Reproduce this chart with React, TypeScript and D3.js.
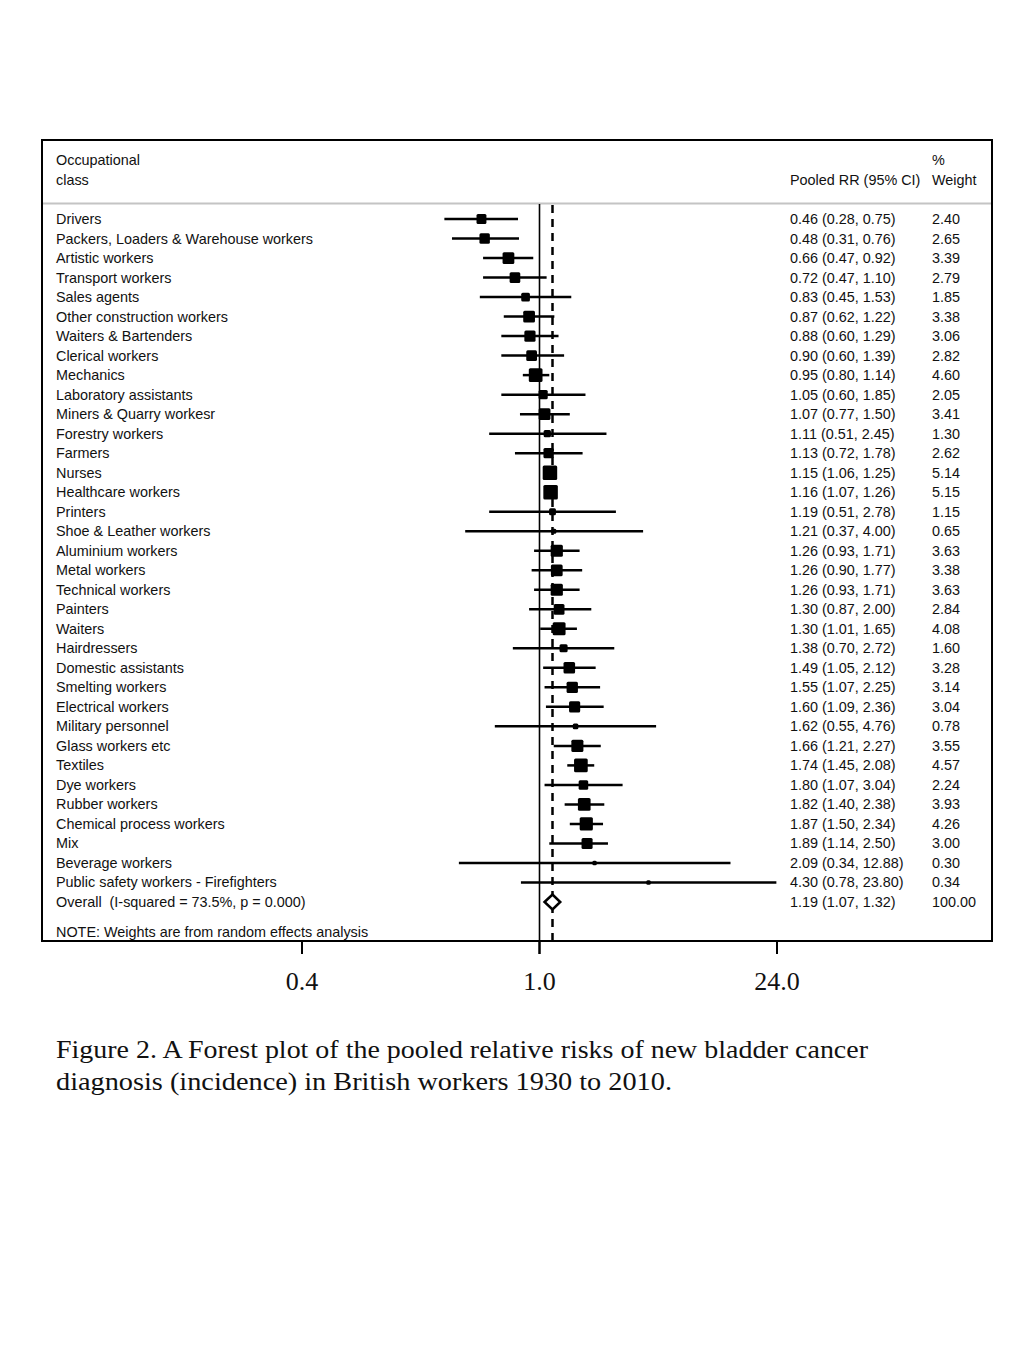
import React from "react";
import * as d3 from "d3";

const categories = [
  "Drivers","Packers, Loaders & Warehouse workers","Artistic workers","Transport workers","Sales agents",
  "Other construction workers","Waiters & Bartenders","Clerical workers","Mechanics","Laboratory assistants",
  "Miners & Quarry workesr","Forestry workers","Farmers","Nurses","Healthcare workers","Printers",
  "Shoe & Leather workers","Aluminium workers","Metal workers","Technical workers","Painters","Waiters",
  "Hairdressers","Domestic assistants","Smelting workers","Electrical workers","Military personnel",
  "Glass workers etc","Textiles","Dye workers","Rubber workers","Chemical process workers","Mix",
  "Beverage workers","Public safety workers - Firefighters",
];
const rr = [0.46,0.48,0.66,0.72,0.83,0.87,0.88,0.90,0.95,1.05,1.07,1.11,1.13,1.15,1.16,1.19,1.21,1.26,1.26,1.26,1.30,1.30,1.38,1.49,1.55,1.60,1.62,1.66,1.74,1.80,1.82,1.87,1.89,2.09,4.30];
const lower = [0.28,0.31,0.47,0.47,0.45,0.62,0.60,0.60,0.80,0.60,0.77,0.51,0.72,1.06,1.07,0.51,0.37,0.93,0.90,0.93,0.87,1.01,0.70,1.05,1.07,1.09,0.55,1.21,1.45,1.07,1.40,1.50,1.14,0.34,0.78];
const upper = [0.75,0.76,0.92,1.10,1.53,1.22,1.29,1.39,1.14,1.85,1.50,2.45,1.78,1.25,1.26,2.78,4.00,1.71,1.77,1.71,2.00,1.65,2.72,2.12,2.25,2.36,4.76,2.27,2.08,3.04,2.38,2.34,2.50,12.88,23.80];
const weights = [2.40,2.65,3.39,2.79,1.85,3.38,3.06,2.82,4.60,2.05,3.41,1.30,2.62,5.14,5.15,1.15,0.65,3.63,3.38,3.63,2.84,4.08,1.60,3.28,3.14,3.04,0.78,3.55,4.57,2.24,3.93,4.26,3.00,0.30,0.34];
const overallLabel = "Overall  (I-squared = 73.5%, p = 0.000)";
const overall = { rr: 1.19, lower: 1.07, upper: 1.32, weight: 100.0 };
const tickValues = [1 / 24, 1, 24];
const tickLabels = ["0.4", "1.0", "24.0"];
const caption = [
  "Figure 2. A Forest plot of the pooled relative risks of new bladder cancer",
  "diagnosis (incidence) in British workers 1930 to 2010.",
];
const captionWidths = [812, 616];

export default function App() {
  const x = d3.scaleLog().domain([1 / 24, 24]).range([302, 777]);
  const rowY = d3.scaleLinear().domain([0, 35]).range([219, 902]);
  const size = d3.scaleSqrt().domain([0, 5.14]).range([0, 14.5]);
  const boxL = 42, boxT = 140, boxR = 992, boxB = 941;
  const sans = "'Liberation Sans', Arial, Helvetica, sans-serif";
  const serif = "'Liberation Serif', 'Times New Roman', serif";
  const fs = 14.4;
  const fmt = (v: number) => v.toFixed(2);
  const dy = 5;
  const ox = x(overall.rr);
  const oy = rowY(35);
  return (
    <svg width={1024} height={1365} style={{ position: "absolute", left: 0, top: 0, background: "#fff" }}>
      <rect x={0} y={0} width={1024} height={1365} fill="#fff" />
      <g fontFamily={sans} fontSize={fs} fill="#111">
        <text x={56} y={165}>Occupational</text>
        <text x={56} y={185}>class</text>
        <text x={790} y={185}>Pooled RR (95% CI)</text>
        <text x={932} y={165}>%</text>
        <text x={932} y={185}>Weight</text>
      </g>
      <line x1={boxL} x2={boxR} y1={203.5} y2={203.5} stroke="#c4c4c4" strokeWidth={2} />
      <line x1={x(1)} x2={x(1)} y1={204} y2={boxB} stroke="#000" strokeWidth={1.6} />
      <line x1={ox} x2={ox} y1={205} y2={boxB} stroke="#000" strokeWidth={2.5} strokeDasharray="8,6" />
      {categories.map((c, i) => {
        const y = rowY(i);
        const s = Math.max(size(weights[i]), 4.5);
        return (
          <g key={c}>
            <line x1={x(lower[i])} x2={x(upper[i])} y1={y} y2={y} stroke="#000" strokeWidth={2.5} />
            <rect x={x(rr[i]) - s / 2} y={y - s / 2} width={s} height={s} rx={1.5} fill="#000" />
            <text x={56} y={y + dy} fontFamily={sans} fontSize={fs} fill="#111">{c}</text>
            <text x={790} y={y + dy} fontFamily={sans} fontSize={fs} fill="#111">
              {`${fmt(rr[i])} (${fmt(lower[i])}, ${fmt(upper[i])})`}
            </text>
            <text x={932} y={y + dy} fontFamily={sans} fontSize={fs} fill="#111">{fmt(weights[i])}</text>
          </g>
        );
      })}
      <path
        d={`M${x(overall.lower)},${oy} L${ox},${oy - 7.5} L${x(overall.upper)},${oy} L${ox},${oy + 7.5} Z`}
        fill="#fff" stroke="#000" strokeWidth={2.5}
      />
      <g fontFamily={sans} fontSize={fs} fill="#111">
        <text x={56} y={oy + dy} style={{ whiteSpace: "pre" }}>{overallLabel}</text>
        <text x={790} y={oy + dy}>{`${fmt(overall.rr)} (${fmt(overall.lower)}, ${fmt(overall.upper)})`}</text>
        <text x={932} y={oy + dy}>{fmt(overall.weight)}</text>
        <text x={56} y={937}>NOTE: Weights are from random effects analysis</text>
      </g>
      <rect x={boxL} y={boxT} width={boxR - boxL} height={boxB - boxT} fill="none" stroke="#000" strokeWidth={2} />
      {tickValues.map((t, i) => (
        <g key={i}>
          <line x1={x(t)} x2={x(t)} y1={boxB} y2={954} stroke="#000" strokeWidth={i === 1 ? 2.5 : 2} />
          <text x={x(t)} y={990} textAnchor="middle" fontFamily={serif} fontSize={26} fill="#111">{tickLabels[i]}</text>
        </g>
      ))}
      {caption.map((line, i) => (
        <text key={i} x={56} y={1058 + i * 32} fontFamily={serif} fontSize={25} fill="#111"
          textLength={captionWidths[i]} lengthAdjust="spacingAndGlyphs">{line}</text>
      ))}
    </svg>
  );
}
